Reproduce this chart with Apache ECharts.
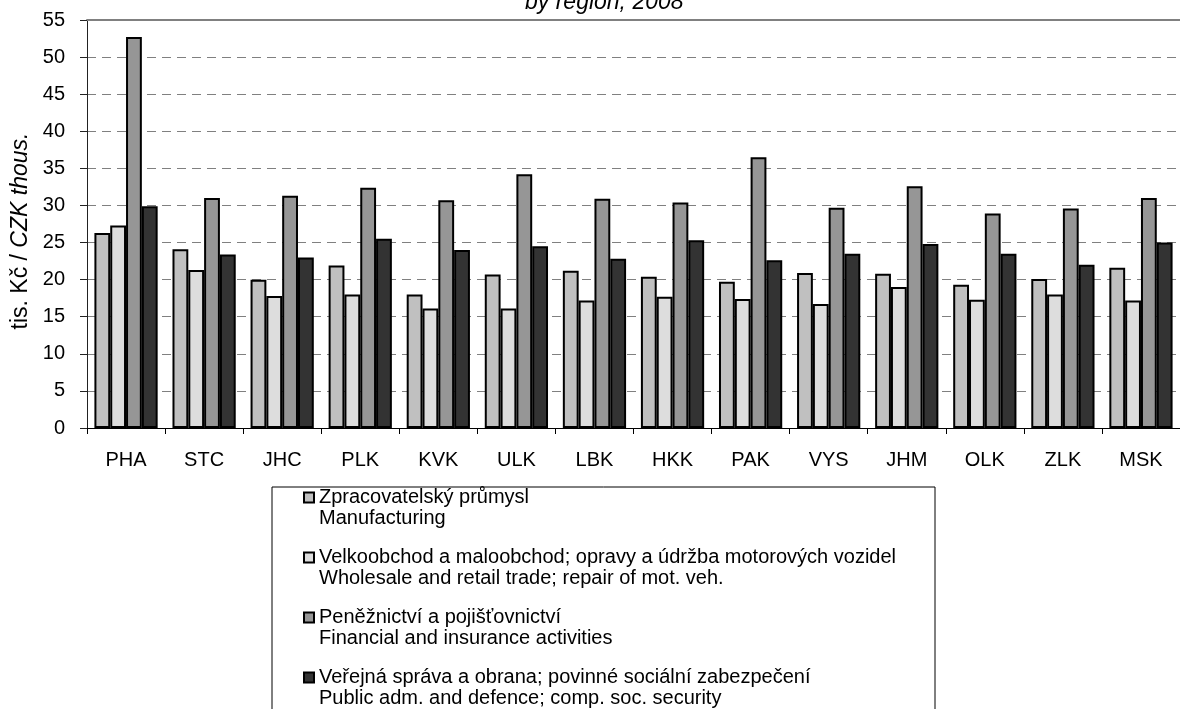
<!DOCTYPE html>
<html>
<head>
<meta charset="utf-8">
<script src="https://cdn.jsdelivr.net/npm/echarts@6/dist/echarts.min.js"></script>
<style>
html,body{margin:0;padding:0;background:#fff;}
#chart{width:1180px;height:709px;}
</style>
</head>
<body>
<div id="chart"></div>
<script>
const categories = ['PHA','STC','JHC','PLK','KVK','ULK','LBK','HKK','PAK','VYS','JHM','OLK','ZLK','MSK'];
const manufacturing = [26.3, 24.1, 20.0, 21.9, 18.0, 20.7, 21.2, 20.4, 19.7, 20.9, 20.8, 19.3, 20.1, 21.6];
const trade = [27.3, 21.3, 17.8, 18.0, 16.1, 16.1, 17.2, 17.7, 17.4, 16.7, 19.0, 17.3, 18.0, 17.2];
const finance = [52.7, 31.0, 31.3, 32.4, 30.7, 34.2, 30.9, 30.4, 36.5, 29.7, 32.6, 28.9, 29.6, 31.0];
const publicAdm = [29.9, 23.4, 23.0, 25.5, 24.0, 24.5, 22.8, 25.3, 22.6, 23.5, 24.8, 23.5, 22.0, 25.0];
const seriesNamesCz = [
  'Zpracovatelský průmysl',
  'Velkoobchod a maloobchod; opravy a údržba motorových vozidel',
  'Peněžnictví a pojišťovnictví',
  'Veřejná správa a obrana; povinné sociální zabezpečení'
];
const seriesNamesEn = [
  'Manufacturing',
  'Wholesale and retail trade; repair of mot. veh.',
  'Financial and insurance activities',
  'Public adm. and defence; comp. soc. security'
];
const yMin = 0, yMax = 55, yStep = 5;
const titleText = 'by region, 2008';
const yAxisNameMain = 'tis. Kč / ';
const yAxisNameItalic = 'CZK thous.';

const FONT = '"Liberation Sans", Arial, sans-serif';
const fills = ['#c0c0c0', '#dddddd', '#969696', '#333333'];
const values = [manufacturing, trade, finance, publicAdm];

const chart = echarts.init(document.getElementById('chart'), null, {renderer: 'canvas'});
const option = {
  backgroundColor: '#ffffff',
  animation: false,
  textStyle: {fontFamily: FONT},
  grid: {left: 87, top: 20, width: 1098, height: 408, containLabel: false},
  graphic: [
    {
      type: 'text', left: 525, top: -9, z: 10,
      style: {text: titleText, font: 'italic 23px ' + FONT, fill: '#000'}
    },
    {
      type: 'rect', z: 0,
      shape: {x: 272, y: 487, width: 663, height: 300},
      style: {fill: 'none', stroke: '#000', lineWidth: 1}
    }
  ],
  legend: {
    orient: 'vertical',
    left: 303,
    top: 466,
    padding: 0,
    itemWidth: 10,
    itemHeight: 10,
    itemGap: -3,
    icon: 'rect',
    selectedMode: false,
    textStyle: {fontSize: 20, lineHeight: 21, color: '#000', fontFamily: FONT},
    formatter: function (name) {
      const i = seriesNamesCz.indexOf(name);
      return '\n' + name + '\n' + seriesNamesEn[i];
    },
    data: seriesNamesCz
  },
  xAxis: [
    {
      type: 'category',
      data: categories,
      boundaryGap: true,
      axisLine: {show: true, lineStyle: {color: '#000', width: 1}},
      axisTick: {show: true, alignWithLabel: false, length: 6, lineStyle: {color: '#000'}},
      axisLabel: {color: '#000', fontSize: 20, margin: 22, fontFamily: FONT, interval: 0},
      splitLine: {show: false}
    },
    {
      type: 'category',
      data: categories,
      position: 'top',
      axisLine: {show: true, lineStyle: {color: '#808080', width: 2}},
      axisTick: {show: false},
      axisLabel: {show: false},
      splitLine: {show: false}
    }
  ],
  yAxis: {
    type: 'value',
    min: yMin, max: yMax, interval: yStep,
    name: '{n|' + yAxisNameMain + '}{i|' + yAxisNameItalic + '}',
    nameLocation: 'middle',
    nameGap: 49,
    nameRotate: 90,
    nameTextStyle: {
      color: '#000', fontSize: 23, fontFamily: FONT,
      padding: [0, 14, 0, 0],
      rich: {
        n: {fontSize: 23, color: '#000', fontFamily: FONT},
        i: {fontSize: 23, color: '#000', fontFamily: FONT, fontStyle: 'italic'}
      }
    },
    axisLine: {show: true, lineStyle: {color: '#222', width: 1}},
    axisTick: {show: true, length: 7, lineStyle: {color: '#222'}},
    axisLabel: {color: '#000', fontSize: 20, margin: 22, fontFamily: FONT},
    splitLine: {show: true, lineStyle: {color: '#808080', width: 1, type: [9, 6]}}
  },
  series: values.map(function (arr, i) {
    return {
      type: 'bar',
      name: seriesNamesCz[i],
      data: arr,
      barGap: '0%',
      barCategoryGap: '19%',
      itemStyle: {color: fills[i], borderColor: '#000', borderWidth: 2},
      emphasis: {disabled: true}
    };
  })
};
chart.setOption(option);
</script>
</body>
</html>
